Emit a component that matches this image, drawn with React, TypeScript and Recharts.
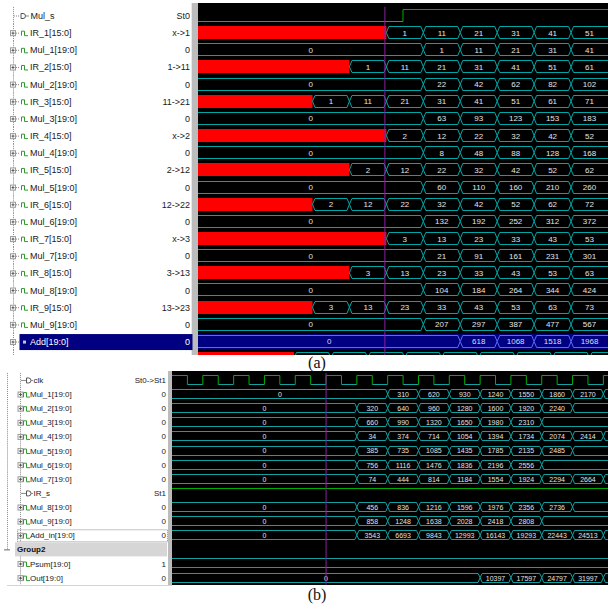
import React from 'react';
import { BarChart, Bar, XAxis, YAxis, ReferenceLine } from 'recharts';

type Seg = [number, string];

// ---------------- Panel (a) ----------------
const SPAN_A = 111;
const CURSOR_A = 50.6;

const namesA = ['Mul_s', 'IR_1[15:0]', 'Mul_1[19:0]', 'IR_2[15:0]', 'Mul_2[19:0]', 'IR_3[15:0]', 'Mul_3[19:0]',
  'IR_4[15:0]', 'Mul_4[19:0]', 'IR_5[15:0]', 'Mul_5[19:0]', 'IR_6[15:0]', 'Mul_6[19:0]', 'IR_7[15:0]',
  'Mul_7[19:0]', 'IR_8[15:0]', 'Mul_8[19:0]', 'IR_9[15:0]', 'Mul_9[19:0]', 'Add[19:0]', ' '];
const valuesA = ['St0', 'x->1', '0', '1->11', '0', '11->21', '0', 'x->2', '0', '2->12', '0', '12->22', '0',
  'x->3', '0', '3->13', '0', '13->23', '0', '0', ''];
const iconsA = ['bit', 'bus', 'bus', 'bus', 'bus', 'bus', 'bus', 'bus', 'bus', 'bus', 'bus', 'bus', 'bus', 'bus',
  'bus', 'bus', 'bus', 'bus', 'bus', 'sel', 'none'];

const mulS_a: Seg[] = [[0, 'lo'], [55.5, 'hi']];
const ir1_a: Seg[] = [[0, 'x'], [51, '1'], [61, '11'], [71, '21'], [81, '31'], [91, '41'], [101, '51']];
const mul1_a: Seg[] = [[0, '0'], [61, '1'], [71, '11'], [81, '21'], [91, '31'], [101, '41']];
const ir2_a: Seg[] = [[0, 'x'], [41, '1'], [51, '11'], [61, '21'], [71, '31'], [81, '41'], [91, '51'], [101, '61']];
const mul2_a: Seg[] = [[0, '0'], [61, '22'], [71, '42'], [81, '62'], [91, '82'], [101, '102']];
const ir3_a: Seg[] = [[0, 'x'], [31, '1'], [41, '11'], [51, '21'], [61, '31'], [71, '41'], [81, '51'], [91, '61'], [101, '71']];
const mul3_a: Seg[] = [[0, '0'], [61, '63'], [71, '93'], [81, '123'], [91, '153'], [101, '183']];
const ir4_a: Seg[] = [[0, 'x'], [51, '2'], [61, '12'], [71, '22'], [81, '32'], [91, '42'], [101, '52']];
const mul4_a: Seg[] = [[0, '0'], [61, '8'], [71, '48'], [81, '88'], [91, '128'], [101, '168']];
const ir5_a: Seg[] = [[0, 'x'], [41, '2'], [51, '12'], [61, '22'], [71, '32'], [81, '42'], [91, '52'], [101, '62']];
const mul5_a: Seg[] = [[0, '0'], [61, '60'], [71, '110'], [81, '160'], [91, '210'], [101, '260']];
const ir6_a: Seg[] = [[0, 'x'], [31, '2'], [41, '12'], [51, '22'], [61, '32'], [71, '42'], [81, '52'], [91, '62'], [101, '72']];
const mul6_a: Seg[] = [[0, '0'], [61, '132'], [71, '192'], [81, '252'], [91, '312'], [101, '372']];
const ir7_a: Seg[] = [[0, 'x'], [51, '3'], [61, '13'], [71, '23'], [81, '33'], [91, '43'], [101, '53']];
const mul7_a: Seg[] = [[0, '0'], [61, '21'], [71, '91'], [81, '161'], [91, '231'], [101, '301']];
const ir8_a: Seg[] = [[0, 'x'], [41, '3'], [51, '13'], [61, '23'], [71, '33'], [81, '43'], [91, '53'], [101, '63']];
const mul8_a: Seg[] = [[0, '0'], [61, '104'], [71, '184'], [81, '264'], [91, '344'], [101, '424']];
const ir9_a: Seg[] = [[0, 'x'], [31, '3'], [41, '13'], [51, '23'], [61, '33'], [71, '43'], [81, '53'], [91, '63'], [101, '73']];
const mul9_a: Seg[] = [[0, '0'], [61, '207'], [71, '297'], [81, '387'], [91, '477'], [101, '567']];
const add_a: Seg[] = [[0, '0'], [71, '618'], [81, '1068'], [91, '1518'], [101, '1968']];
const cut_a: Seg[] = [[0, 'x'], [26, ''], [36, ''], [46, ''], [56, ''], [66, ''], [76, ''], [86, ''], [96, ''], [106, '']];

const signalsA = [mulS_a, ir1_a, mul1_a, ir2_a, mul2_a, ir3_a, mul3_a, ir4_a, mul4_a, ir5_a, mul5_a, ir6_a, mul6_a,
  ir7_a, mul7_a, ir8_a, mul8_a, ir9_a, mul9_a, add_a, cut_a];

// ---------------- Panel (b) ----------------
const SPAN_B = 141.5;
const CURSOR_B = 50;

const namesB = ['clk', 'Mul_1[19:0]', 'Mul_2[19:0]', 'Mul_3[19:0]', 'Mul_4[19:0]', 'Mul_5[19:0]', 'Mul_6[19:0]',
  'Mul_7[19:0]', 'IR_s', 'Mul_8[19:0]', 'Mul_9[19:0]', 'Add_in[19:0]', 'Group2', 'Psum[19:0]', 'Out[19:0]'];
const valuesB = ['St0->St1', '0', '0', '0', '0', '0', '0', '0', 'St1', '0', '0', '0', '', '1', '0'];
const iconsB = ['bit', 'bus', 'bus', 'bus', 'bus', 'bus', 'bus', 'bus', 'bit', 'bus', 'bus', 'focus', 'group', 'bus', 'bus'];

const clk_b: Seg[] = [[0, 'hi'], [5, 'lo'], [10, 'hi'], [15, 'lo'], [20, 'hi'], [25, 'lo'], [30, 'hi'], [35, 'lo'],
  [40, 'hi'], [45, 'lo'], [50, 'hi'], [55, 'lo'], [60, 'hi'], [65, 'lo'], [70, 'hi'], [75, 'lo'], [80, 'hi'],
  [85, 'lo'], [90, 'hi'], [95, 'lo'], [100, 'hi'], [105, 'lo'], [110, 'hi'], [115, 'lo'], [120, 'hi'], [125, 'lo'],
  [130, 'hi'], [135, 'lo'], [140, 'hi']];
const mul1_b: Seg[] = [[0, '0'], [70, '310'], [80, '620'], [90, '930'], [100, '1240'], [110, '1550'], [120, '1860'], [130, '2170'], [140, '']];
const mul2_b: Seg[] = [[0, '0'], [60, '320'], [70, '640'], [80, '960'], [90, '1280'], [100, '1600'], [110, '1920'], [120, '2240'], [130, '']];
const mul3_b: Seg[] = [[0, '0'], [60, '660'], [70, '990'], [80, '1320'], [90, '1650'], [100, '1980'], [110, '2310'], [120, '']];
const mul4_b: Seg[] = [[0, '0'], [60, '34'], [70, '374'], [80, '714'], [90, '1054'], [100, '1394'], [110, '1734'], [120, '2074'], [130, '2414'], [140, '']];
const mul5_b: Seg[] = [[0, '0'], [60, '385'], [70, '735'], [80, '1085'], [90, '1435'], [100, '1785'], [110, '2135'], [120, '2485'], [130, '']];
const mul6_b: Seg[] = [[0, '0'], [60, '756'], [70, '1116'], [80, '1476'], [90, '1836'], [100, '2196'], [110, '2556'], [120, '']];
const mul7_b: Seg[] = [[0, '0'], [60, '74'], [70, '444'], [80, '814'], [90, '1184'], [100, '1554'], [110, '1924'], [120, '2294'], [130, '2664'], [140, '']];
const irS_b: Seg[] = [[0, 'hi']];
const mul8_b: Seg[] = [[0, '0'], [60, '456'], [70, '836'], [80, '1216'], [90, '1596'], [100, '1976'], [110, '2356'], [120, '2736'], [130, '']];
const mul9_b: Seg[] = [[0, '0'], [60, '858'], [70, '1248'], [80, '1638'], [90, '2028'], [100, '2418'], [110, '2808'], [120, '']];
const addIn_b: Seg[] = [[0, '0'], [60, '3543'], [70, '6693'], [80, '9843'], [90, '12993'], [100, '16143'], [110, '19293'], [120, '22443'], [130, '24513'], [140, '']];
const group2_b: Seg[] = [];
const psum_b: Seg[] = [[0, '']];
const out_b: Seg[] = [[0, '0'], [100, '10397'], [110, '17597'], [120, '24797'], [130, '31997'], [140, '']];

const signalsB = [clk_b, mul1_b, mul2_b, mul3_b, mul4_b, mul5_b, mul6_b, mul7_b, irS_b, mul8_b, mul9_b, addIn_b,
  group2_b, psum_b, out_b];

// ---------------- helpers ----------------
function buildRows(names: string[], signals: Seg[][], span: number, icons: string[]) {
  const maxSegs = Math.max(...signals.map((s) => s.length));
  const rows = names.map((name, r) => {
    const sig = signals[r];
    const row: any = { name, segs: sig.map((s) => s[1]), hl: icons[r] === 'sel' };
    for (let i = 0; i < maxSegs; i++) {
      if (i < sig.length) {
        const end = i + 1 < sig.length ? sig[i + 1][0] : span;
        row['s' + i] = end - sig[i][0];
      } else row['s' + i] = 0;
    }
    return row;
  });
  return { rows, maxSegs };
}

const rowsA = buildRows(namesA, signalsA, SPAN_A, iconsA);
const rowsB = buildRows(namesB, signalsB, SPAN_B, iconsB);

const GREEN = '#00b000';
const FONT = '"Liberation Sans", Arial, sans-serif';

interface Cfg { pitch: number; slant: number; font: number; teal: string; }

function busPath(x0: number, x1: number, top: number, bot: number, mid: number, dl: number, dr: number) {
  let d = `M${x0 + dl},${top} L${x1 - dr},${top} `;
  if (dr > 0) d += `L${x1},${mid} L${x1 - dr},${bot} `;
  else d += `M${x1},${bot} `;
  d += `L${x0 + dl},${bot} `;
  if (dl > 0) d += `L${x0},${mid} L${x0 + dl},${top}`;
  return d;
}

const makeShape = (i: number, cfg: Cfg) => (p: any) => {
  const { x, y, width, height, payload } = p;
  const segs: string[] = payload && payload.segs;
  if (!segs || i >= segs.length || !(width > 0)) return <g />;
  const v = segs[i];
  const x0 = x, x1 = x + width;
  const mid = y + height / 2;
  const top = Math.round(y) + 0.5;
  const bot = Math.round(y + height) - 0.5;
  const els: any[] = [];
  const hl = payload.hl;
  if (hl) {
    els.push(<rect key="hl" x={x0} y={mid - cfg.pitch / 2 + 0.8} width={width} height={cfg.pitch - 1.4} fill="#000080" />);
  }
  if (v === 'x') {
    els.push(<rect key="x" x={x0} y={Math.round(y)} width={width} height={Math.round(height)} fill="#ff0000" />);
  } else if (v === 'hi' || v === 'lo') {
    const ly = v === 'hi' ? top : bot;
    els.push(<line key="l" x1={x0} x2={x1} y1={ly} y2={ly} stroke={v === 'hi' ? GREEN : cfg.teal} strokeWidth={1} />);
    if (i > 0 && segs[i - 1] !== v) {
      els.push(<line key="v" x1={x0} x2={x0} y1={top} y2={bot} stroke={GREEN} strokeWidth={1} />);
    }
  } else {
    const dl = i > 0 ? Math.min(cfg.slant, width / 2) : 0;
    const dr = i < segs.length - 1 ? Math.min(cfg.slant, width / 2) : 0;
    const stroke = hl ? '#5a6cff' : cfg.teal;
    els.push(<path key="b" d={busPath(x0, x1, top, bot, mid, dl, dr)} fill="none" stroke={stroke} strokeWidth={1} />);
    const fits = v.length * cfg.font * 0.56 < width - 2 * cfg.slant;
    if (v && fits) {
      els.push(
        <text key="t" x={(x0 + x1) / 2} y={mid + 0.5} textAnchor="middle" dominantBaseline="central"
          fontSize={cfg.font} fontFamily={FONT} fill={hl ? '#d8dcff' : '#e4e4e4'}>{v}</text>
      );
    }
  }
  return <g>{els}</g>;
};

const busIcon = (x: number, y: number) => (
  <path d={`M${x},${y + 2.5} V${y - 2} H${x + 3} V${y + 2.5} H${x + 6.5}`} fill="none" stroke="#2f9a2f" strokeWidth={1} />
);
const expandBox = (x: number, y: number) => (
  <g>
    <rect x={x + 0.5} y={y - 2.5} width={5} height={5} fill="#fff" stroke="#9a9a9a" strokeWidth={1} />
    <line x1={x + 1.5} x2={x + 4.5} y1={y} y2={y} stroke="#555" />
    <line x1={x + 3} x2={x + 3} y1={y - 1.5} y2={y + 1.5} stroke="#555" />
  </g>
);
const bitIcon = (x: number, y: number) => (
  <path d={`M${x},${y - 2.5} H${x + 2} A2.5,2.5 0 0 1 ${x + 2},${y + 2.5} H${x} Z`} fill="none" stroke="#555" strokeWidth={1} />
);

const tickA = (p: any) => {
  const { y, payload } = p;
  const r = namesA.indexOf(payload.value);
  const icon = iconsA[r];
  const half = 8.6;
  return (
    <g>
      <line x1={13.5} x2={13.5} y1={y - half} y2={y + half} stroke="#8a8a8a" strokeDasharray="1 1" />
      {icon === 'sel' && <rect x={19.5} y={y - 7.5} width={173} height={16} fill="#000080" />}
      {icon === 'bit' && (
        <g>
          <line x1={14} x2={20} y1={y + 0.5} y2={y + 0.5} stroke="#8a8a8a" strokeDasharray="1 1" />
          {bitIcon(21, y + 0.5)}
          <line x1={25.5} x2={29} y1={y + 0.5} y2={y + 0.5} stroke="#8a8a8a" />
        </g>
      )}
      {(icon === 'bus' || icon === 'sel') && (
        <g>
          {expandBox(10, y + 0.5)}
          <line x1={16} x2={20} y1={y + 0.5} y2={y + 0.5} stroke="#8a8a8a" strokeDasharray="1 1" />
          {icon === 'bus' ? busIcon(21.5, y + 0.5) : <rect x={23} y={y - 1} width={3} height={3} fill="#c8c8c8" />}
        </g>
      )}
      {icon !== 'none' && (
        <text x={icon === 'bit' ? 30.5 : 30} y={y + 0.5} dominantBaseline="central" fontSize={9} fontFamily={FONT}
          fill={icon === 'sel' ? '#ffffff' : '#1a1a1a'}>{payload.value}</text>
      )}
      {icon !== 'none' && (
        <text x={190} y={y + 0.5} textAnchor="end" dominantBaseline="central" fontSize={9} fontFamily={FONT}
          fill={icon === 'sel' ? '#ffffff' : '#1a1a1a'}>{valuesA[r]}</text>
      )}
    </g>
  );
};

const tickB = (p: any) => {
  const { y, payload } = p;
  const r = namesB.indexOf(payload.value);
  const icon = iconsB[r];
  const half = 7.1;
  return (
    <g>
      {r <= 12 && <line x1={7.5} x2={7.5} y1={y - half} y2={r === 12 ? y : y + half} stroke="#8a8a8a" strokeDasharray="1 1" />}
      {icon !== 'group' && <line x1={20.5} x2={20.5} y1={y - half} y2={y + half} stroke="#8a8a8a" strokeDasharray="1 1" />}
      {icon === 'group' && (
        <g>
          <rect x={15} y={y - 7} width={152} height={14} fill="#d6d6d6" />
          <line x1={4} x2={10} y1={y + 0.5} y2={y + 0.5} stroke="#666" />
          <text x={17} y={y + 0.5} dominantBaseline="central" fontSize={8} fontWeight="bold" fontFamily={FONT} fill="#111">{payload.value}</text>
        </g>
      )}
      {icon === 'bit' && (
        <g>
          <line x1={21} x2={26} y1={y + 0.5} y2={y + 0.5} stroke="#8a8a8a" />
          {bitIcon(26.5, y + 0.5)}
          <line x1={31} x2={33} y1={y + 0.5} y2={y + 0.5} stroke="#8a8a8a" />
        </g>
      )}
      {(icon === 'bus' || icon === 'focus') && (
        <g>
          {expandBox(17.5, y + 0.5)}
          {busIcon(23.5, y + 0.5)}
        </g>
      )}
      {icon === 'focus' && (
        <rect x={17.5} y={y - 5.5} width={150} height={12} fill="none" stroke="#888" strokeDasharray="1 1" />
      )}
      {icon !== 'group' && (
        <text x={icon === 'bit' ? 33.5 : 30} y={y + 0.5} dominantBaseline="central" fontSize={8} fontFamily={FONT} fill="#1a1a1a">{payload.value}</text>
      )}
      {icon !== 'group' && (
        <text x={166} y={y + 0.5} textAnchor="end" dominantBaseline="central" fontSize={8} fontFamily={FONT} fill="#1a1a1a">{valuesB[r]}</text>
      )}
    </g>
  );
};

const cfgA: Cfg = { pitch: 17.16, slant: 2.5, font: 8, teal: '#00a8a8' };
const cfgB: Cfg = { pitch: 14.12, slant: 2, font: 7, teal: '#12a2a2' };

const barsFor = (n: number, cfg: Cfg) => {
  const out: any[] = [];
  for (let i = 0; i < n; i++) {
    out.push(
      <Bar key={'s' + i} dataKey={'s' + i} stackId="w" isAnimationActive={false} shape={makeShape(i, cfg)} />
    );
  }
  return out;
};

export default function App() {
  return (
    <div style={{ position: 'absolute', left: 0, top: 0, width: 608, height: 608, background: '#ffffff', overflow: 'hidden' }}>
      {/* panel (a) backgrounds */}
      <div style={{ position: 'absolute', left: 198, top: 3, width: 410, height: 352, background: '#000' }} />
      <div style={{ position: 'absolute', left: 191, top: 3, width: 7, height: 352, background: '#bcbcbc', borderLeft: '1px solid #e8e8e8', boxSizing: 'border-box' }} />
      <div style={{ position: 'absolute', left: 0, top: 0, width: 608, height: 355, overflow: 'hidden' }}>
        <BarChart width={608} height={367.3} data={rowsA.rows} layout="vertical"
          margin={{ top: 6.92, right: 0, bottom: 0, left: 0 }} barSize={13} barGap={0}>
          <XAxis type="number" domain={[0, SPAN_A]} hide allowDataOverflow />
          <YAxis type="category" dataKey="name" width={198} axisLine={false} tickLine={false} interval={0} tick={tickA} />
          {barsFor(rowsA.maxSegs, cfgA)}
          <ReferenceLine x={CURSOR_A} stroke="#8c1fa0" strokeWidth={1} />
        </BarChart>
      </div>
      <div style={{ position: 'absolute', left: 267, top: 355, width: 100, height: 16, lineHeight: '16px', textAlign: 'center', fontFamily: '"Liberation Serif", "DejaVu Serif", serif', fontSize: 16, color: '#111' }}>(a)</div>

      {/* panel (b) backgrounds */}
      <div style={{ position: 'absolute', left: 172, top: 371, width: 436, height: 214, background: '#000' }} />
      <div style={{ position: 'absolute', left: 168, top: 371, width: 4, height: 214, background: '#bcbcbc' }} />
      <div style={{ position: 'absolute', left: 7, top: 585, width: 165, height: 1, background: '#f0c8c8' }} />
      <div style={{ position: 'absolute', left: 0, top: 371, width: 608, height: 214, overflow: 'hidden' }}>
        <BarChart width={608} height={213.7} data={rowsB.rows} layout="vertical"
          margin={{ top: 1.9, right: 0, bottom: 0, left: 0 }} barSize={10} barGap={0}>
          <XAxis type="number" domain={[0, SPAN_B]} hide allowDataOverflow />
          <YAxis type="category" dataKey="name" width={172} axisLine={false} tickLine={false} interval={0} tick={tickB} />
          {barsFor(rowsB.maxSegs, cfgB)}
          <ReferenceLine x={CURSOR_B} stroke="#8c1fa0" strokeWidth={1} />
        </BarChart>
      </div>
      <div style={{ position: 'absolute', left: 267, top: 587, width: 100, height: 16, lineHeight: '16px', textAlign: 'center', fontFamily: '"Liberation Serif", "DejaVu Serif", serif', fontSize: 16, color: '#111' }}>(b)</div>
    </div>
  );
}
